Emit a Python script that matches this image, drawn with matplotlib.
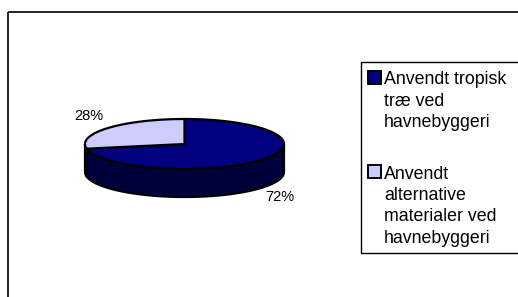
import numpy as np
import matplotlib
matplotlib.use('Agg')
import matplotlib.pyplot as plt
from matplotlib.patches import Polygon, Rectangle

# data
labels = ['Anvendt tropisk\ntræ ved\nhavnebyggeri',
          'Anvendt\nalternative\nmaterialer ved\nhavnebyggeri']
values = [72, 28]
top_colors = ['#000080', '#CCCCFF']
side_colors = ['#00003C', '#66667F']

W, H = 518, 297
plt.rcParams['font.family'] = ['Liberation Sans', 'DejaVu Sans']
fig = plt.figure(figsize=(W / 100, H / 100), dpi=100)
ax = fig.add_axes([0, 0, 1, 1])
ax.set_xlim(0, W)
ax.set_ylim(H, 0)
ax.axis('off')

# outer chart frame
ax.add_patch(Rectangle((8, 12), W, H, fill=False, ec='black', lw=1.2))

# 3D pie geometry
cx, cy, a, b, depth = 184.5, 144, 99.5, 25, 28


def pt(t, dy=0):
    t = np.radians(t)
    return np.column_stack([cx + a * np.cos(t), cy - b * np.sin(t) + dy])


total = sum(values)
start = 90.0
slices = []
for v in values:
    sweep = 360.0 * v / total
    slices.append((start - sweep, start))  # clockwise from 12 o'clock
    start -= sweep

# sides (only front half visible, 180..360 deg)
for (t1, t2), sc in zip(slices, side_colors):
    for k in (-360, 0, 360):
        lo = max(t1 + k, 180)
        hi = min(t2 + k, 360)
        if hi > lo:
            ts = np.linspace(lo, hi, 80)
            up = pt(ts)
            dn = pt(ts[::-1], depth)
            ax.add_patch(Polygon(np.vstack([up, dn]), closed=True, fc=sc,
                                 ec='black', lw=1.6, joinstyle='round'))

# tops
for (t1, t2), tc in zip(slices, top_colors):
    ts = np.linspace(t1, t2, 200)
    poly = np.vstack([[cx, cy], pt(ts)])
    ax.add_patch(Polygon(poly, closed=True, fc=tc, ec='black', lw=1.6,
                         joinstyle='round'))

# percent labels
ax.text(88.5, 116, '%d%%' % values[1], fontsize=10.5, ha='center', va='center')
ax.text(279.5, 197, '%d%%' % values[0], fontsize=10.5, ha='center', va='center')

# legend
ax.add_patch(Rectangle((361, 62), W, 253 - 62, fill=False, ec='black', lw=1.0))
leg_base = [84.5, 179]
for y0, lab, c in zip(leg_base, labels, top_colors):
    ax.add_patch(Rectangle((368, y0 - 14), 13, 13, fc=c, ec='black', lw=1.4))
    for i, line in enumerate(lab.split('\n')):
        ax.text(384, y0 + i * 21.2, line, fontsize=12.8, ha='left',
                va='baseline')

fig.savefig('out.png', dpi=100)
